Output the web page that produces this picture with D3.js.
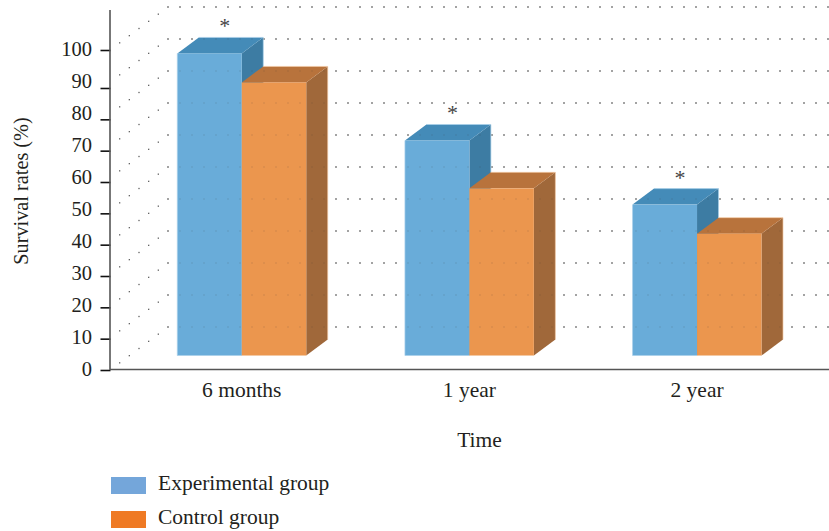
<!DOCTYPE html>
<html>
<head>
<meta charset="utf-8">
<script src="https://cdn.jsdelivr.net/npm/d3@7"></script>
<style>
  html, body { margin: 0; padding: 0; background: #fff; }
  svg { display: block; }
  text { font-family: "Liberation Serif", serif; fill: #231f20; }
</style>
</head>
<body>
<svg id="chart" width="829" height="531"></svg>
<script>
// Survival rates by follow-up time
const categories = ["6 months", "1 year", "2 year"];
const seriesNames = ["Experimental group", "Control group"];
const experimental = [94.7, 67.4, 47.3];
const control = [85.6, 52.4, 38.2];
const significant = [true, true, true];
const tickValues = [0, 10, 20, 30, 40, 50, 60, 70, 80, 90, 100];

const svg = d3.select("#chart");

// Oblique projection of the bar depth
const barDepth = { dx: 21.5, dy: -16 };
const wallDepth = { dx: 58, dy: -43 };

const x = d3.scaleBand().domain(categories).range([177.3, 761.5]).paddingInner(0.4336);
const xSeries = d3.scaleBand().domain(seriesNames).range([0, x.bandwidth()]);
const yBar = d3.scaleLinear().domain([0, 100]).range([355.5, 36.5]);
const yWall = d3.scaleLinear().domain([0, 100]).range([327, 7]);
const yTick = d3.scaleLinear().domain([0, 90, 100]).range([370, 88, 50]);
const yLabel = d3.scaleLinear().domain([0, 100]).range([369, 49]);

const faces = [
  { front: "#69acd9", top: "#448bb8", side: "#3d7ca3", edge: "#a9d0ea" },
  { front: "#eb964e", top: "#b8733c", side: "#a0683a", edge: "#f2c9a4" }
];
const legendColors = ["#74a6da", "#ef7a24"];

// Dotted wall grid
const backXs = d3.range(168, 829, 12);
const sideSteps = d3.range(1, 6);
const dotColor = "#3a3a3a";
const dots = (g, pts) => g.selectAll("rect").data(pts).join("rect")
  .attr("x", d => d[0] - 0.65).attr("y", d => d[1] - 0.65)
  .attr("width", 1.3).attr("height", 1.3);
const backPts = tickValues.flatMap(t => backXs.map(px => [px, yWall(t)]));
const sidePts = tickValues.flatMap(t => sideSteps.map(i => {
  const f = 1 - i / 6;
  return [168 - wallDepth.dx * f, yWall(t) - wallDepth.dy * f];
}));
svg.append("g").attr("fill", dotColor).call(dots, backPts);
svg.append("g").attr("fill", dotColor).attr("opacity", 0.8).call(dots, sidePts);

// Bars: front, top and side faces
const poly = pts => pts.map(p => p.join(",")).join(" ");
const barsLayer = svg.append("g");
[experimental, control].forEach((values, s) => {
  const c = faces[s];
  const g = barsLayer.append("g");
  categories.forEach((cat, i) => {
    const x0 = x(cat) + xSeries(seriesNames[s]);
    const x1 = x0 + xSeries.bandwidth();
    const y1 = yBar(values[i]);
    const y0 = yBar(0);
    const { dx, dy } = barDepth;
    g.append("polygon").attr("points", poly([[x1, y1], [x1 + dx, y1 + dy], [x1 + dx, y0 + dy], [x1, y0]]))
      .attr("fill", c.side);
    g.append("polygon").attr("points", poly([[x0, y1], [x0 + dx, y1 + dy], [x1 + dx, y1 + dy], [x1, y1]]))
      .attr("fill", c.top);
    g.append("path").attr("d", `M${x0 + dx},${y1 + dy}H${x1 + dx}V${y0 + dy}`)
      .attr("fill", "none").attr("stroke", c.edge).attr("stroke-width", 0.7);
    g.append("rect").attr("x", x0).attr("y", y1).attr("width", x1 - x0).attr("height", y0 - y1)
      .attr("fill", c.front);
    // Only the experimental bar has a pale left edge; the control bar abuts it
    g.append("path").attr("d", s === 0 ? `M${x0},${y1}V${y0}H${x1}` : `M${x0},${y0}H${x1}`)
      .attr("fill", "none").attr("stroke", c.edge).attr("stroke-width", 0.7);
  });
});

// Faint grid dots showing through the bars
svg.append("g").attr("fill", dotColor).attr("opacity", 0.18).call(dots, backPts);

// Significance markers above the experimental bars
svg.append("g").selectAll("text")
  .data(categories.filter((c, i) => significant[i]))
  .join("text")
  .attr("x", c => x(c) + x.bandwidth() / 2 - 17)
  .attr("y", c => yBar(experimental[categories.indexOf(c)]) + barDepth.dy - 4)
  .attr("text-anchor", "middle")
  .attr("font-size", 22)
  .style("fill", "#444")
  .text("*");

// Axes
const axisColor = "#555";
const yAxis = svg.append("g").attr("transform", "translate(110.5,0)")
  .call(d3.axisLeft(yTick).tickValues(tickValues).tickSize(10).tickSizeOuter(0).tickFormat(""));
yAxis.select(".domain").remove();
yAxis.selectAll("line").attr("stroke", "#111").attr("stroke-width", 1.6);
svg.append("line").attr("x1", 110).attr("x2", 110).attr("y1", 10).attr("y2", 370)
  .attr("stroke", axisColor).attr("stroke-width", 1.6);
svg.append("line").attr("x1", 110).attr("x2", 829).attr("y1", 369.5).attr("y2", 369.5)
  .attr("stroke", axisColor).attr("stroke-width", 1.4);

svg.append("g").selectAll("text").data(tickValues).join("text")
  .attr("x", 92).attr("y", d => yLabel(d)).attr("dy", "0.34em")
  .attr("text-anchor", "end").attr("font-size", 20.5).text(d => d);

svg.append("g").selectAll("text").data(categories).join("text")
  .attr("x", c => x(c) + x.bandwidth() / 2)
  .attr("y", 397).attr("text-anchor", "middle").attr("font-size", 21.5).text(c => c);

svg.append("text").attr("x", 479.5).attr("y", 447).attr("text-anchor", "middle")
  .attr("font-size", 21.5).text("Time");
svg.append("text").attr("transform", "translate(28,191) rotate(-90)")
  .attr("text-anchor", "middle").attr("font-size", 20.3).text("Survival rates (%)");

// Legend
const legendY = d3.scalePoint().domain(seriesNames).range([477, 511]);
const legend = svg.append("g").selectAll("g").data(seriesNames).join("g")
  .attr("transform", d => `translate(111,${legendY(d)})`);
legend.append("rect").attr("width", 35).attr("height", 17).attr("fill", (d, i) => legendColors[i]);
legend.append("text").attr("x", 47).attr("y", 13).attr("font-size", 21.5).text(d => d);
</script>
</body>
</html>
